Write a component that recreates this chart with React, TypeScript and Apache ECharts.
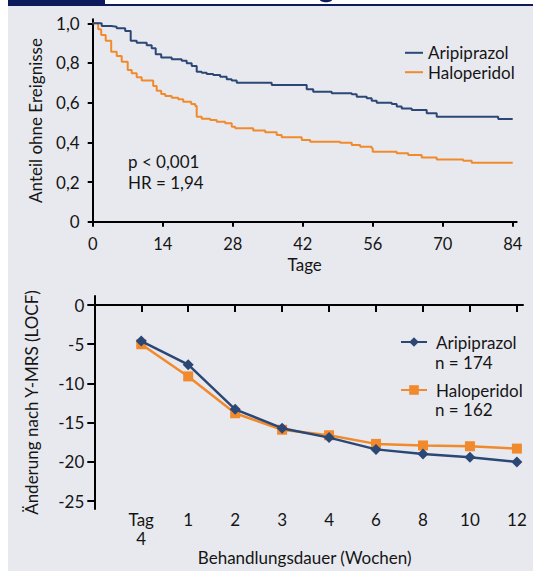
import React, { useEffect, useRef } from "react";
import * as echarts from "echarts";

// ---------- Data: Kaplan-Meier (top) ----------
const kmDaysAri = [0, 1.8, 3.7, 4.8, 6.5, 7.6, 8.8, 10.8, 11.8, 12.6, 13.7, 15.8, 17.8, 18.8, 19.8, 20.8, 21.8, 22.8, 24.1, 25.5, 26.8, 27.8, 28.8, 35.8, 42.8, 44.1, 47.8, 51.8, 52.8, 54.8, 55.8, 56.8, 59.8, 60.8, 61.8, 63.8, 66.8, 68.8, 81.1, 84];
const kmSurvAri = [1.0, 0.986, 0.983, 0.975, 0.961, 0.912, 0.902, 0.889, 0.874, 0.844, 0.827, 0.819, 0.811, 0.798, 0.785, 0.756, 0.751, 0.744, 0.739, 0.731, 0.718, 0.711, 0.7, 0.689, 0.667, 0.655, 0.647, 0.642, 0.63, 0.622, 0.61, 0.6, 0.593, 0.58, 0.571, 0.563, 0.546, 0.529, 0.518, 0.518];
const kmDaysHal = [0, 1.1, 1.7, 2.6, 3.7, 4.8, 5.8, 7.0, 7.8, 8.8, 9.8, 12.1, 12.8, 13.7, 14.5, 15.8, 17.1, 18.1, 19.7, 20.5, 20.8, 21.8, 23.5, 24.8, 26.5, 27.8, 28.5, 32.1, 34.5, 36.8, 37.8, 41.8, 43.5, 49.5, 51.8, 53.5, 55.8, 56.0, 60.8, 63.1, 65.8, 68.8, 74.1, 75.8, 84];
const kmSurvHal = [1.0, 0.97, 0.941, 0.912, 0.857, 0.835, 0.806, 0.765, 0.748, 0.728, 0.711, 0.684, 0.66, 0.644, 0.634, 0.625, 0.617, 0.605, 0.593, 0.583, 0.529, 0.519, 0.513, 0.504, 0.496, 0.479, 0.471, 0.459, 0.451, 0.437, 0.425, 0.412, 0.403, 0.398, 0.387, 0.378, 0.37, 0.353, 0.345, 0.336, 0.323, 0.314, 0.307, 0.297, 0.297];
const kmDayTicks = [0, 14, 28, 42, 56, 70, 84];
const kmSurvTicks = [0, 0.2, 0.4, 0.6, 0.8, 1.0];

// ---------- Data: Y-MRS change (bottom) ----------
const weekLabels = ["Tag\n4", "1", "2", "3", "4", "6", "8", "10", "12"];
const ymrsAri = [-4.6, -7.6, -13.3, -15.7, -16.9, -18.4, -19.0, -19.4, -20.0];
const ymrsHal = [-5.0, -9.1, -13.8, -15.9, -16.6, -17.7, -17.9, -18.0, -18.3];
const ymrsTicks = [0, -5, -10, -15, -20, -25];

const NAVY = "#2b4775";
const ORANGE = "#f08a2c";
const TXT = "#151515";
const FONT = "Lato, sans-serif";
const FS = 17;

const fmtDec = (v: number) => (v === 0 ? "0" : v.toFixed(1).replace(".", ","));

export default function App() {
  const ref = useRef<HTMLDivElement>(null);
  useEffect(() => {
    if (!ref.current) return;
    const chart = echarts.init(ref.current, undefined, { renderer: "svg" });
    const weekIdx = weekLabels.map((_, i) => i);
    const axisLine = { show: true, onZero: false, lineStyle: { color: "#000", width: 2 } };
    const txt = { fontSize: FS, color: TXT, fontFamily: FONT };
    const option: any = {
      animation: false,
      textStyle: { fontFamily: FONT, color: TXT },
      grid: [
        { left: 92.7, top: 19.3, width: 424, height: 202.4 },
        { left: 94.3, top: 296, width: 428.7, height: 213 },
      ],
      xAxis: [
        {
          gridIndex: 0, type: "value", min: 0, max: 84.8,
          axisLine,
          axisTick: { show: true, customValues: kmDayTicks, length: 5, lineStyle: { color: "#000", width: 2 } },
          axisLabel: { customValues: kmDayTicks, ...txt, fontSize: 16.5, margin: 14.5, lineHeight: 16 },
          splitLine: { show: false },
          name: "Tage", nameLocation: "middle", nameGap: 35,
          nameTextStyle: { ...txt, lineHeight: 16 },
        },
        {
          gridIndex: 1, type: "value", min: -1, max: 8.13, position: "top",
          axisLine: { show: true, onZero: true, lineStyle: { color: "#000", width: 2 } },
          axisTick: { show: true, inside: true, customValues: weekIdx, length: 7, lineStyle: { color: "#000", width: 2 } },
          axisLabel: { show: false },
          splitLine: { show: false },
        },
        {
          gridIndex: 1, type: "value", min: -1, max: 8.13, position: "bottom",
          axisLine: { show: false }, axisTick: { show: false },
          axisLabel: {
            customValues: weekIdx, ...txt, margin: 1, lineHeight: 19,
            formatter: (v: number) => weekLabels[Math.round(v)] ?? "",
          },
          splitLine: { show: false },
          name: "Behandlungsdauer (Wochen)", nameLocation: "middle", nameGap: 28,
          nameTextStyle: { ...txt, lineHeight: 16, padding: [0, 8, 0, 0] },
        },
      ],
      yAxis: [
        {
          gridIndex: 0, type: "value", min: 0, max: 1.02,
          axisLine,
          axisTick: { show: true, customValues: kmSurvTicks, length: 5, lineStyle: { color: "#000", width: 2 } },
          axisLabel: { customValues: kmSurvTicks, ...txt, margin: 13, formatter: fmtDec },
          splitLine: { show: false },
          name: "Anteil ohne Ereignisse", nameLocation: "middle", nameGap: 49,
          nameTextStyle: { ...txt },
        },
        {
          gridIndex: 1, type: "value", min: -26, max: 1.15,
          axisLine,
          axisTick: { show: true, customValues: ymrsTicks, length: 7, lineStyle: { color: "#000", width: 2 } },
          axisLabel: { customValues: ymrsTicks, ...txt, margin: 10, formatter: (v: number) => String(v) },
          splitLine: { show: false },
          name: "Änderung nach Y-MRS (LOCF)", nameLocation: "middle", nameGap: 54,
          nameTextStyle: { ...txt },
        },
      ],
      legend: [
        {
          orient: "vertical", left: 405, top: 44.3, padding: 0, itemWidth: 18, itemHeight: 2, itemGap: 2.4,
          icon: "rect",
          data: ["Aripiprazol", "Haloperidol"],
          textStyle: { ...txt, lineHeight: 16 },
        },
        {
          orient: "vertical", left: 400, top: 333.5, padding: 0, itemWidth: 26, itemHeight: 12,
          data: ["Aripiprazol, n = 174"],
          formatter: (n: string) => n.split(",")[0],
          textStyle: { ...txt, lineHeight: 16, padding: [0, 0, 0, 4] },
        },
        {
          orient: "vertical", left: 400, top: 381.5, padding: 0, itemWidth: 26, itemHeight: 12,
          data: ["Haloperidol, n = 162"],
          formatter: (n: string) => n.split(",")[0],
          textStyle: { ...txt, lineHeight: 16, padding: [0, 0, 0, 4] },
        },
      ],
      graphic: [
        { type: "rect", z: -10, shape: { x: 8, y: 6, width: 525, height: 565 }, style: { fill: "#e8e9ef" } },
        { type: "rect", z: -10, shape: { x: 8, y: 0, width: 97, height: 6 }, style: { fill: "#0c1b5c" } },
        { type: "rect", z: -10, shape: { x: 105, y: 4, width: 428, height: 2 }, style: { fill: "#0c1b5c" } },
        { type: "ellipse", z: -10, shape: { cx: 326, cy: 0, rx: 6, ry: 2.2 }, style: { fill: "#0c1b5c" } },
        { type: "text", x: 128, y: 161.7, style: { text: "p < 0,001", fontSize: FS, fill: TXT, fontFamily: FONT, verticalAlign: "middle" } },
        { type: "text", x: 128, y: 182.5, style: { text: "HR = 1,94", fontSize: FS, fill: TXT, fontFamily: FONT, verticalAlign: "middle" } },
        { type: "text", x: 435, y: 362, style: { text: "n = 174", fontSize: FS, lineHeight: 16, fill: TXT, fontFamily: FONT, verticalAlign: "middle" } },
        { type: "text", x: 435, y: 409.3, style: { text: "n = 162", fontSize: FS, lineHeight: 16, fill: TXT, fontFamily: FONT, verticalAlign: "middle" } },
      ],
      series: [
        {
          name: "Haloperidol", type: "line", step: "end", xAxisIndex: 0, yAxisIndex: 0,
          symbol: "none", z: 2,
          lineStyle: { color: ORANGE, width: 2 }, itemStyle: { color: ORANGE },
          data: kmDaysHal.map((d, i) => [d, kmSurvHal[i]]),
        },
        {
          name: "Aripiprazol", type: "line", step: "end", xAxisIndex: 0, yAxisIndex: 0,
          symbol: "none", z: 3,
          lineStyle: { color: NAVY, width: 2 }, itemStyle: { color: NAVY },
          data: kmDaysAri.map((d, i) => [d, kmSurvAri[i]]),
        },
        {
          name: "Haloperidol, n = 162", type: "line", xAxisIndex: 1, yAxisIndex: 1,
          symbol: "rect", symbolSize: 10, z: 2,
          lineStyle: { color: ORANGE, width: 2.5 }, itemStyle: { color: ORANGE },
          data: ymrsHal.map((v, i) => [i, v]),
        },
        {
          name: "Aripiprazol, n = 174", type: "line", xAxisIndex: 1, yAxisIndex: 1,
          symbol: "diamond", symbolSize: 11, z: 3,
          lineStyle: { color: NAVY, width: 2.5 }, itemStyle: { color: NAVY },
          data: ymrsAri.map((v, i) => [i, v]),
        },
      ],
    };
    chart.setOption(option);
    return () => chart.dispose();
  }, []);
  return (
    <div
      ref={ref}
      style={{ position: "absolute", left: 0, top: 0, width: 533, height: 571 }}
    />
  );
}
